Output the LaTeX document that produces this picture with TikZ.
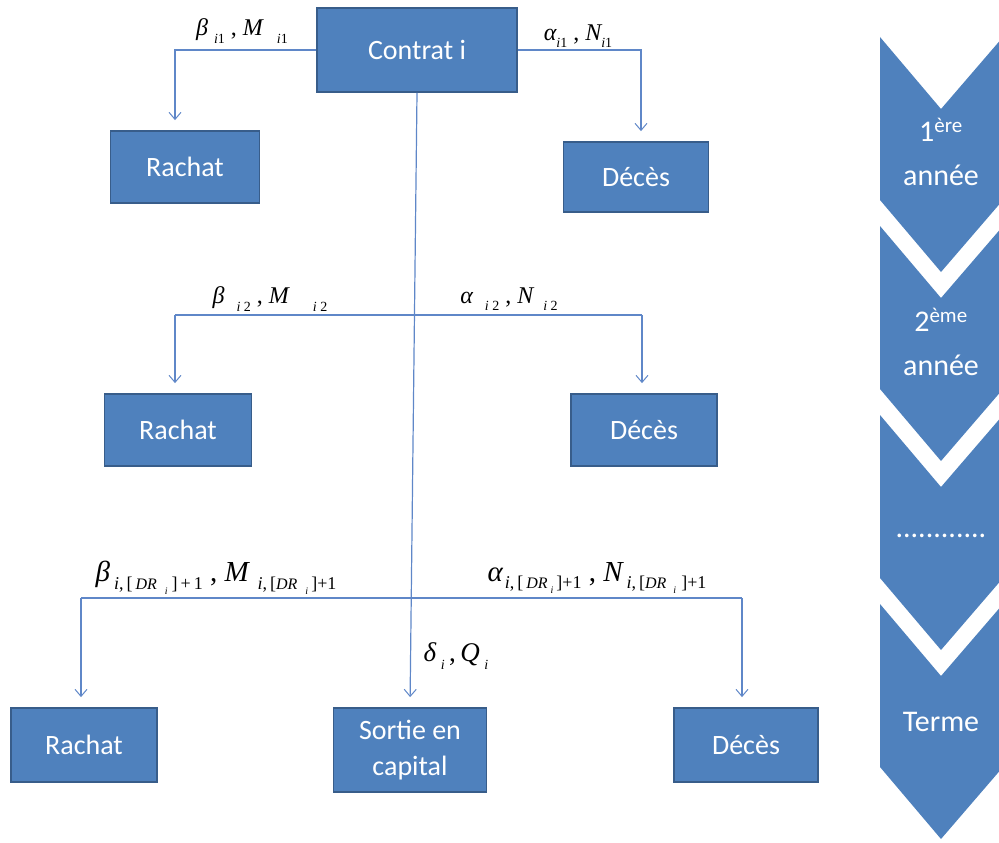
\documentclass[tikz,border=0pt]{standalone}
\usepackage{fontspec}
\setmainfont{Carlito}
\newfontfamily\tms{Liberation Serif}
\usetikzlibrary{arrows.meta}
\definecolor{boxblue}{RGB}{79,129,189}
\definecolor{boxborder}{RGB}{56,93,138}
\definecolor{lineblue}{RGB}{95,135,200}
\newcommand{\sbs}[1]{\raisebox{-0.3em}{\fontsize{14}{14}\selectfont #1}}
\newcommand{\sbl}[1]{\raisebox{-0.25em}{\fontsize{18}{18}\selectfont #1}}
\newcommand{\dr}{{\fontsize{16}{16}\selectfont DR}}
\newcommand{\ssbs}[1]{\raisebox{-0.3em}{\fontsize{10}{10}\selectfont #1}}
\newcommand{\up}[1]{\upshape #1\itshape}
\tikzset{
  box/.style={rectangle, fill=boxblue, draw=boxborder, line width=1.8pt, text=white,
    font=\fontsize{28}{34}\selectfont, inner sep=0pt, align=center},
  conn/.style={draw=lineblue, line width=1.2pt},
  arr/.style={conn, -{Straight Barb[length=7pt,width=12pt,line width=1pt]}, shorten >=10pt},
  lab/.style={inner sep=0pt, font=\tms\itshape\fontsize{24}{28}\selectfont},
  labbig/.style={inner sep=0pt, font=\tms\itshape\fontsize{29}{32}\selectfont},
  chev/.style={fill=boxblue, draw=none},
  chevtext/.style={text=white, font=\fontsize{30}{44}\selectfont, align=center, inner sep=0pt}
}
\begin{document}
\begin{tikzpicture}[x=1pt,y=-1pt]
\useasboundingbox (0,0) rectangle (999,843);
% boxes
\node[box, minimum width=200pt, minimum height=84pt] (contrat) at (417,50) {Contrat i};
\node[box, minimum width=149pt, minimum height=72pt] (r1) at (185,167) {Rachat};
\node[box, minimum width=145pt, minimum height=70pt] (d1) at (636,177) {Décès};
\node[box, minimum width=147pt, minimum height=72pt] (r2) at (178,430) {Rachat};
\node[box, minimum width=146pt, minimum height=72pt] (d2) at (644,430) {Décès};
\node[box, minimum width=146pt, minimum height=74pt] (r3) at (84,745) {Rachat};
\node[box, minimum width=153pt, minimum height=84pt] (sortie) at (410,750) {Sortie en\\[2pt]capital};
\node[box, minimum width=144pt, minimum height=74pt] (d3) at (746,745) {Décès};
% level 1
\draw[arr] (contrat.west) -| ([xshift=-10pt]r1.north);
\draw[arr] (contrat.east) -| ([xshift=5pt]d1.north);
% trunk
\draw[arr] (contrat.south) -- (sortie.north);
% level 2
\coordinate (l2L) at (175,315);
\coordinate (l2R) at (642,315);
\draw[conn] (l2L) -- (l2R);
\draw[arr] (l2L) -- ([xshift=-3pt]r2.north);
\draw[arr] (l2R) -- ([xshift=-2pt]d2.north);
% level 3
\coordinate (l3L) at (81,598);
\coordinate (l3R) at (742,598);
\draw[conn] (l3L) -- (l3R);
\draw[arr] (l3L) -- ([xshift=-3pt]r3.north);
\draw[arr] (l3R) -- ([xshift=-4pt]d3.north);
% labels
\node[lab] (lb1) at (242,31) {β\hspace{6pt}\sbs{i\up{1}}\up{ , }M\hspace{14pt}\sbs{i\up{1}}};
\node[lab] (la1) at (578,36) {α\sbs{i\up{1}}\up{ , }N\sbs{i\up{1}}};
\node[lab] (lb2) at (270,299) {β\hspace{12pt}\sbs{i \up{2}}\up{ , }M\hspace{24pt}\sbs{i \up{2}}};
\node[lab] (la2) at (509,299) {α\hspace{12pt}\sbs{i \up{2}}\up{ , }N\hspace{10pt}\sbs{i \up{2}}};
\node[labbig] (lb3) at (216,578) {β\hspace{4pt}\sbl{i\up{,\,[}\,\dr\hspace{8pt}\ssbs{i}\hspace{4pt}\up{]\,+\,1}}\up{ , }M\hspace{9pt}\sbl{i\up{,\,[}\dr\hspace{8pt}\ssbs{i}\hspace{3pt}\up{]+1}}};
\node[labbig] (la3) at (597,578) {α\hspace{2pt}\sbl{i\up{,\,[}\,\dr\,\ssbs{i}\up{\,]+1}}\up{ , }N\hspace{4pt}\sbl{i\up{,\,[}\dr\hspace{7pt}\ssbs{i}\hspace{5pt}\up{]+1}}};
\node[lab, font=\tms\itshape\fontsize{27}{30}\selectfont] (dq) at (456,656) {δ\,\sbs{i}\up{\,,\,}Q\,\sbs{i}};
% chevrons
\foreach \t/\n in {37/c1,226/c2,415/c3,604/c4}{
  \path[chev] (880,\t) -- (941,\t+72) -- (1003,\t) -- (1003,\t+163) -- (941,\t+235) -- (880,\t+163) -- cycle;
}
\node[chevtext] (t1) at (941,152) {1\textsuperscript{ère}\\année};
\node[chevtext] (t2) at (941,342) {2\textsuperscript{ème}\\année};
\node[chevtext] (t3) at (941,536) {............};
\node[chevtext] (t4) at (941,722) {Terme};
\end{tikzpicture}
\end{document}
